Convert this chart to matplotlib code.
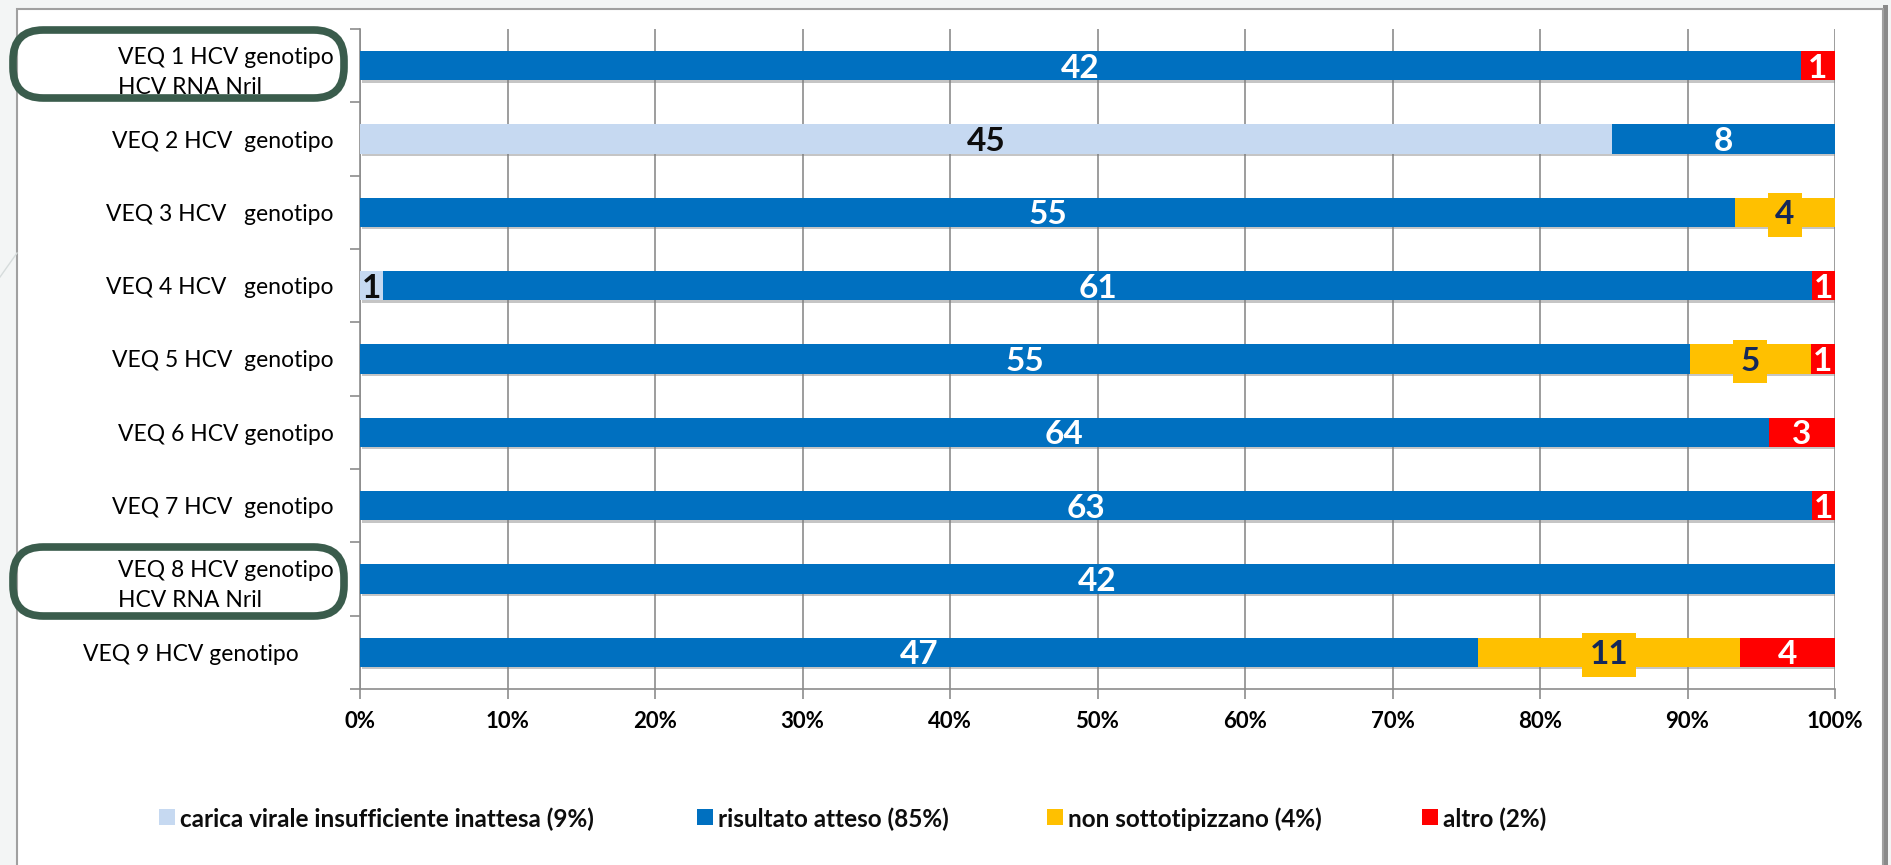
import matplotlib
matplotlib.use("Agg")
import matplotlib.pyplot as plt
import matplotlib.patheffects as pe
from matplotlib.patches import Rectangle, FancyBboxPatch
from matplotlib.lines import Line2D
from matplotlib.ticker import FuncFormatter
import numpy as np

# ---- data ---------------------------------------------------------------
categories = [
    "VEQ 1 HCV genotipo\nHCV RNA Nril",
    "VEQ 2 HCV  genotipo",
    "VEQ 3 HCV   genotipo",
    "VEQ 4 HCV   genotipo",
    "VEQ 5 HCV  genotipo",
    "VEQ 6 HCV genotipo",
    "VEQ 7 HCV  genotipo",
    "VEQ 8 HCV genotipo\nHCV RNA Nril",
    "VEQ 9 HCV genotipo      ",
]
carica_insufficiente = [0, 45, 0, 1, 0, 0, 0, 0, 0]
risultato_atteso = [42, 8, 55, 61, 55, 64, 63, 42, 47]
non_sottotipizzano = [0, 0, 4, 0, 5, 0, 0, 0, 11]
altro = [1, 0, 0, 1, 1, 3, 1, 0, 4]
series_names = [
    "carica virale insufficiente inattesa (9%)",
    "risultato atteso (85%)",
    "non sottotipizzano (4%)",
    "altro (2%)",
]
x_ticks = [0.0, 0.1, 0.2, 0.3, 0.4, 0.5, 0.6, 0.7, 0.8, 0.9, 1.0]

# ---- style --------------------------------------------------------------
plt.rcParams["font.family"] = ["Lato", "DejaVu Sans"]
colors = ["#c6d9f1", "#0070c0", "#ffc000", "#ff0000"]
text_colors = ["#0d0d0d", "#ffffff", "#14285a", "#ffffff"]
grid_grey = "#8c8c8c"

W, H = 1891, 865
fig = plt.figure(figsize=(W / 100, H / 100), dpi=100)
fig.patch.set_facecolor("#f3f5f5")


def fx(x):
    return x / W


def fy(y):
    return 1 - y / H


# slide panel with its frame and shadow
fig.add_artist(Line2D([fx(0), fx(17)], [fy(277), fy(253)], color="#d6dcdc", lw=1.0))
fig.add_artist(Rectangle((fx(1883), fy(870)), fx(5), 1, transform=fig.transFigure,
                         facecolor="#8a8a8a", edgecolor="none", zorder=0))
fig.add_artist(Rectangle((fx(17), fy(870)), fx(1866), fy(9) - fy(870),
                         transform=fig.transFigure, facecolor="white",
                         edgecolor="#a0a0a0", lw=1.5, zorder=0))

ax = fig.add_axes([fx(360), fy(689), fx(1835) - fx(360), fy(29) - fy(689)])
ax.set_facecolor("none")

series = [carica_insufficiente, risultato_atteso, non_sottotipizzano, altro]
vals = np.array(series, dtype=float)
totals = vals.sum(axis=0)
shares = vals / totals
y = np.arange(len(categories))

shadow = [pe.SimplePatchShadow(offset=(1.2, -1.8), shadow_rgbFace="#7f7f7f", alpha=0.45),
          pe.Normal()]

left = np.zeros(len(categories))
for s in range(len(series)):
    ax.barh(y, shares[s], left=left, height=0.4, color=colors[s],
            edgecolor="none", path_effects=shadow, zorder=3)
    for i in range(len(categories)):
        v = series[s][i]
        if v == 0:
            continue
        kw = dict(ha="center", va="center_baseline", fontsize=24,
                  fontweight="bold", color=text_colors[s], zorder=5)
        if s == 2:
            kw["bbox"] = dict(boxstyle="square,pad=0.22", facecolor=colors[s],
                              edgecolor="none")
        ax.text(left[i] + shares[s][i] / 2, y[i], str(v), **kw)
    left = left + shares[s]

# axes
ax.set_xlim(0, 1)
ax.set_ylim(len(categories) - 0.5, -0.5)
ax.set_xticks(x_ticks)
ax.xaxis.set_major_formatter(FuncFormatter(lambda v, _: f"{v:.0%}"))
ax.tick_params(axis="x", length=7, width=1.2, color=grid_grey, pad=9,
               labelsize=16)
for lab in ax.get_xticklabels():
    lab.set_fontweight("bold")

ax.set_yticks(np.arange(-0.5, len(categories), 1.0))
ax.set_yticklabels([])
ax.tick_params(axis="y", which="major", length=7, width=1.2, color=grid_grey)
ax.set_yticks(y, minor=True)
ax.set_yticklabels(categories, minor=True, fontsize=16.5, linespacing=1.55,
                   multialignment="left")
ax.tick_params(axis="y", which="minor", length=0, pad=19)

ax.xaxis.grid(True, color=grid_grey, lw=1.2, zorder=0)
ax.set_axisbelow(True)
for side in ["top", "right"]:
    ax.spines[side].set_visible(False)
for side in ["left", "bottom"]:
    ax.spines[side].set_color(grid_grey)
    ax.spines[side].set_linewidth(1.2)

# rounded frames around the highlighted row labels
for top_px, bot_px in [(30, 98), (547, 616)]:
    fig.add_artist(FancyBboxPatch((fx(13), fy(bot_px)), fx(331), fy(top_px) - fy(bot_px),
                                  boxstyle="round,pad=0,rounding_size=0.016",
                                  transform=fig.transFigure, facecolor="none",
                                  edgecolor="#3a5c4c", lw=5.5, zorder=6,
                                  mutation_aspect=W / H))

# legend
for name, col, px in zip(series_names, colors, [159, 697, 1047, 1422]):
    fig.add_artist(Rectangle((fx(px), fy(825)), fx(16), fy(809) - fy(825),
                             transform=fig.transFigure, facecolor=col,
                             edgecolor="none"))
    fig.text(fx(px + 21), fy(817), name, ha="left", va="center_baseline",
             fontsize=17.5, fontweight="bold", color="#0d0d0d")

fig.savefig("out.png", dpi=100, facecolor=fig.get_facecolor())
